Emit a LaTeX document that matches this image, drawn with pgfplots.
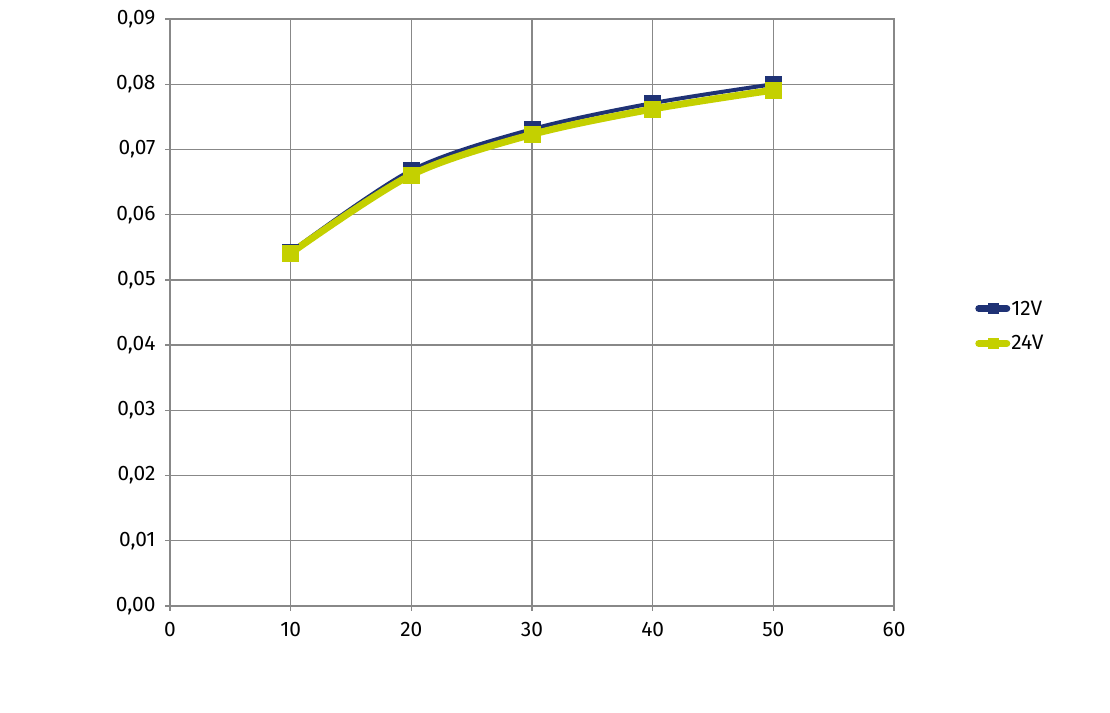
\documentclass[border=0pt]{standalone}
\usepackage{pgfplots}
\pgfplotsset{compat=1.18}
\usepackage{fontspec}
\setmainfont{Fira Sans}
\definecolor{navy}{HTML}{1F3275}
\definecolor{lime}{HTML}{C4D000}
\definecolor{gridgray}{HTML}{888888}
\begin{document}
\begin{tikzpicture}[x=1bp,y=1bp]
\useasboundingbox (0,0) rectangle (1110,713);
\begin{axis}[
  at={(170bp,107bp)}, anchor=south west,
  scale only axis, width=724bp, height=587bp,
  xmin=0, xmax=60, ymin=0, ymax=0.09,
  xtick={0,10,...,60},
  ytick={0,0.01,...,0.09},
  grid=major,
  grid style={gridgray, line width=1.3pt},
  axis line style={gridgray, line width=1.3pt},
  tick style={gridgray, line width=1.3pt},
  tick align=outside, major tick length=5bp,
  xtick pos=bottom, ytick pos=left,
  font=\fontsize{21}{24}\selectfont,
  /pgf/number format/assume math mode=true,
  yticklabel style={xshift=-6bp, /pgf/number format/.cd, use comma, fixed, fixed zerofill, precision=2},
  xticklabel style={yshift=-8bp},
  scaled y ticks=false,
  legend style={at={(1.112,0.477)}, anchor=west, draw=none, fill=none, font=\fontsize{21}{24}\selectfont, row sep=15bp, inner sep=0pt, nodes={inner xsep=1bp}},
  legend cell align=left,
  legend image code/.code={\draw[#1, line width=7bp, line cap=round, mark size=5bp, mark repeat=2, mark phase=2] plot coordinates {(0bp,0bp) (14bp,0bp) (28bp,0bp)};},
]
\addplot[navy, line width=4bp, smooth, mark=square*, mark size=8bp, mark options={solid, line width=0.5bp}] coordinates {
  (10,0.0543) (20,0.0668) (30,0.0731) (40,0.0771) (50,0.0800)
};
\addlegendentry{12V}
\addplot[lime, line width=7bp, smooth, mark=square*, mark size=8bp, mark options={solid, line width=0.5bp}] coordinates {
  (10,0.0541) (20,0.0661) (30,0.0723) (40,0.0762) (50,0.0791)
};
\addlegendentry{24V}
\end{axis}
\end{tikzpicture}
\end{document}
